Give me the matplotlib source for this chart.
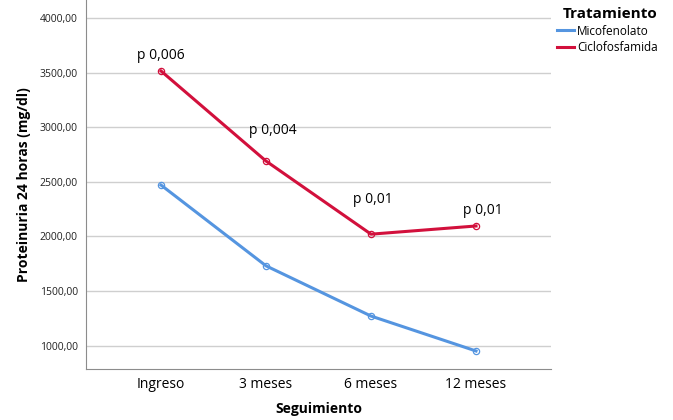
import matplotlib
matplotlib.use('Agg')
import matplotlib.pyplot as plt
from matplotlib.ticker import FuncFormatter

plt.rcParams['font.family'] = ['Open Sans', 'DejaVu Sans']

# datos
seguimiento = ['Ingreso', '3 meses', '6 meses', '12 meses']
micofenolato = [2470, 1730, 1270, 950]
ciclofosfamida = [3515, 2690, 2020, 2095]
p_valores = ['p 0,006', 'p 0,004', 'p 0,01', 'p 0,01']

azul = '#5595e0'
rojo = '#d2103c'

fig = plt.figure(figsize=(6.73, 4.2), dpi=100)
ax = fig.add_axes([86 / 673, 51 / 420, 465 / 673, 369 / 420])

x = range(len(seguimiento))
ax.plot(x, micofenolato, color=azul, lw=2.2, marker='o', ms=4.5,
        mfc='none', mec=azul, mew=0.9, label='Micofenolato')
ax.plot(x, ciclofosfamida, color=rojo, lw=2.2, marker='o', ms=4.5,
        mfc='none', mec=rojo, mew=0.9, label='Ciclofosfamida')

# etiquetas de p sobre la curva roja
offsets = [(0, 11), (5, 22), (1, 25), (5, 11)]
for i, txt in enumerate(p_valores):
    ax.annotate(txt, (i, ciclofosfamida[i]), xytext=offsets[i],
                textcoords='offset points', ha='center', va='center', fontsize=10)

ax.set_xlim(-0.714, 3.714)
ax.set_ylim(785, 4165)
ax.set_yticks([1000, 1500, 2000, 2500, 3000, 3500, 4000])
ax.yaxis.set_major_formatter(FuncFormatter(lambda v, p: f'{v:.2f}'.replace('.', ',')))
ax.set_xticks(list(x))
ax.set_xticklabels(seguimiento, fontsize=10)
ax.tick_params(axis='y', labelsize=7.5, length=0, pad=6, labelcolor='#222222')
ax.tick_params(axis='x', length=0, pad=6)
ax.grid(axis='y', color='#cfcfcf', lw=1)
ax.set_axisbelow(True)
for s in ['top', 'right']:
    ax.spines[s].set_visible(False)
for s in ['left', 'bottom']:
    ax.spines[s].set_color('#8c8c8c')

ax.set_ylabel('Proteinuria 24 horas (mg/dl)', fontsize=10, fontweight='bold', labelpad=6)
ax.set_xlabel('Seguimiento', fontsize=10, fontweight='bold', labelpad=7)

leg = fig.legend(loc='upper left', bbox_to_anchor=(550 / 673, 1.0), frameon=False,
                 title='Tratamiento', fontsize=8.5, handlelength=1.4, handletextpad=0.3,
                 labelspacing=0.3, borderaxespad=0.2)
leg.get_title().set_fontweight('bold')
leg.get_title().set_fontsize(11)
leg._legend_box.align = 'right'
for ln in leg.get_lines():
    ln.set_marker('')
    ln.set_linewidth(2.2)

fig.savefig('out.png', dpi=100)
